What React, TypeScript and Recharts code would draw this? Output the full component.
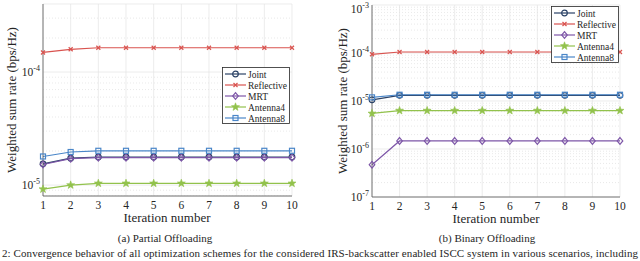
import React from 'react';
import { LineChart, Line, XAxis, YAxis, CartesianGrid, ReferenceLine } from 'recharts';

const iterations = [1, 2, 3, 4, 5, 6, 7, 8, 9, 10];

// (a) Partial offloading
const partialJoint = [1.54e-5, 1.73e-5, 1.77e-5, 1.77e-5, 1.77e-5, 1.77e-5, 1.77e-5, 1.77e-5, 1.77e-5, 1.77e-5];
const partialReflective = [1.49e-4, 1.59e-4, 1.64e-4, 1.64e-4, 1.64e-4, 1.64e-4, 1.64e-4, 1.64e-4, 1.64e-4, 1.64e-4];
const partialMRT = [1.52e-5, 1.71e-5, 1.75e-5, 1.75e-5, 1.75e-5, 1.75e-5, 1.75e-5, 1.75e-5, 1.75e-5, 1.75e-5];
const partialAntenna4 = [9.2e-6, 1.0e-5, 1.035e-5, 1.035e-5, 1.035e-5, 1.035e-5, 1.035e-5, 1.035e-5, 1.035e-5, 1.035e-5];
const partialAntenna8 = [1.79e-5, 1.96e-5, 2.01e-5, 2.01e-5, 2.01e-5, 2.01e-5, 2.01e-5, 2.01e-5, 2.01e-5, 2.01e-5];

// (b) Binary offloading
const binaryJoint = [1.06e-5, 1.31e-5, 1.31e-5, 1.31e-5, 1.31e-5, 1.31e-5, 1.31e-5, 1.31e-5, 1.31e-5, 1.31e-5];
const binaryReflective = [9.4e-5, 1.05e-4, 1.05e-4, 1.05e-4, 1.05e-4, 1.05e-4, 1.05e-4, 1.05e-4, 1.05e-4, 1.05e-4];
const binaryMRT = [4.7e-7, 1.47e-6, 1.47e-6, 1.47e-6, 1.47e-6, 1.47e-6, 1.47e-6, 1.47e-6, 1.47e-6, 1.47e-6];
const binaryAntenna4 = [5.5e-6, 6.3e-6, 6.3e-6, 6.3e-6, 6.3e-6, 6.3e-6, 6.3e-6, 6.3e-6, 6.3e-6, 6.3e-6];
const binaryAntenna8 = [1.19e-5, 1.35e-5, 1.35e-5, 1.35e-5, 1.35e-5, 1.35e-5, 1.35e-5, 1.35e-5, 1.35e-5, 1.35e-5];

const seriesNames = ['Joint', 'Reflective', 'MRT', 'Antenna4', 'Antenna8'];
const seriesColors = ['#2b4266', '#d9534f', '#7e57a8', '#92c24c', '#4a86c8'];
const seriesShapes = ['circle', 'cross', 'diamond', 'star', 'square'];

const partialTicks = [1e-5, 1e-4];
const partialMinor = [8e-6, 9e-6, 2e-5, 3e-5, 4e-5, 5e-5, 6e-5, 7e-5, 8e-5, 9e-5, 2e-4, 3e-4];
const binaryTicks = [1e-7, 1e-6, 1e-5, 1e-4, 1e-3];
const binaryMinor: number[] = [];
[1e-7, 1e-6, 1e-5, 1e-4].forEach((d) => {
  for (let k = 2; k <= 9; k++) binaryMinor.push(d * k);
});

const FONT = 'Liberation Serif, DejaVu Serif, Noto Serif, serif';
const TEXT = '#262626';

const buildRows = (cols: number[][]) =>
  iterations.map((it, i) => {
    const row: any = { it };
    seriesNames.forEach((n, s) => (row[n] = cols[s][i]));
    return row;
  });

const partialData = buildRows([partialJoint, partialReflective, partialMRT, partialAntenna4, partialAntenna8]);
const binaryData = buildRows([binaryJoint, binaryReflective, binaryMRT, binaryAntenna4, binaryAntenna8]);

function starPath(cx: number, cy: number, R: number, r: number) {
  let d = '';
  for (let i = 0; i < 10; i++) {
    const rad = i % 2 === 0 ? R : r;
    const a = -Math.PI / 2 + (i * Math.PI) / 5;
    d += (i === 0 ? 'M' : 'L') + (cx + rad * Math.cos(a)).toFixed(2) + ',' + (cy + rad * Math.sin(a)).toFixed(2);
  }
  return d + 'Z';
}

function MarkerShape({ shape, color, cx, cy }: { shape: string; color: string; cx: number; cy: number }) {
  const sw = 1.2;
  if (shape === 'circle') return <circle cx={cx} cy={cy} r={2.8} fill="none" stroke={color} strokeWidth={sw} />;
  if (shape === 'cross')
    return (
      <path d={`M${cx - 2},${cy - 2}L${cx + 2},${cy + 2}M${cx - 2},${cy + 2}L${cx + 2},${cy - 2}`} stroke={color} strokeWidth={sw} />
    );
  if (shape === 'diamond')
    return <path d={`M${cx},${cy - 3.4}L${cx + 2.8},${cy}L${cx},${cy + 3.4}L${cx - 2.8},${cy}Z`} fill="none" stroke={color} strokeWidth={sw} />;
  if (shape === 'star') return <path d={starPath(cx, cy, 4.2, 1.7)} fill={color} stroke={color} strokeWidth={0.6} />;
  return <rect x={cx - 2.5} y={cy - 2.5} width={5} height={5} fill="none" stroke={color} strokeWidth={sw} />;
}

const makeDot = (shape: string, color: string) => (props: any) => {
  const { cx, cy, index } = props;
  if (cx == null || cy == null) return <g key={index} />;
  return (
    <g key={index}>
      <MarkerShape shape={shape} color={color} cx={cx} cy={cy} />
    </g>
  );
};

const YTick = (props: any) => {
  const { x, y, payload } = props;
  const e = Math.round(Math.log10(payload.value));
  return (
    <text x={x} y={y + 4} textAnchor="end" style={{ fontFamily: FONT }} fontSize={11.5} fill={TEXT}>
      10
      <tspan dy={-5} fontSize={8}>
        {String(e)}
      </tspan>
    </text>
  );
};

const XTick = (props: any) => {
  const { x, y, payload } = props;
  return (
    <text x={x} y={y + 13} textAnchor="middle" style={{ fontFamily: FONT }} fontSize={11.5} fill={TEXT}>
      {payload.value}
    </text>
  );
};

function Panel({ data, domain, ticks, minor, yWidth, margin }: any) {
  return (
    <LineChart width={320} height={261} data={data} margin={margin}>
      <CartesianGrid stroke="#e4e4e4" strokeWidth={0.7} />
      {minor.map((v: number) => (
        <ReferenceLine key={v} y={v} stroke="#e0e0e0" strokeWidth={0.7} strokeDasharray="1 2" ifOverflow="hidden" />
      ))}
      <XAxis
        dataKey="it"
        type="number"
        domain={[1, 10]}
        ticks={iterations}
        tick={<XTick />}
        tickLine={false}
        tickSize={0}
        tickMargin={0}
        height={20}
        axisLine={{ stroke: '#555', strokeWidth: 0.8 }}
      />
      <XAxis xAxisId="top" orientation="top" type="number" domain={[1, 10]} height={0} tick={false} tickLine={false} axisLine={{ stroke: '#555', strokeWidth: 0.8 }} />
      <YAxis
        type="number"
        scale="log"
        domain={domain}
        allowDataOverflow
        ticks={ticks}
        tick={<YTick />}
        tickLine={false}
        tickSize={0}
        tickMargin={3}
        width={yWidth}
        axisLine={{ stroke: '#555', strokeWidth: 0.8 }}
      />
      <YAxis yAxisId="right" orientation="right" type="number" scale="log" domain={domain} allowDataOverflow width={0} tick={false} tickLine={false} axisLine={{ stroke: '#555', strokeWidth: 0.8 }} />
      {seriesNames.map((n, s) => (
        <Line
          key={n}
          dataKey={n}
          stroke={seriesColors[s]}
          strokeWidth={1.2}
          dot={makeDot(seriesShapes[s], seriesColors[s])}
          isAnimationActive={false}
          type="linear"
        />
      ))}
    </LineChart>
  );
}

function LegendBox({ left, top }: { left: number; top: number }) {
  const w = 68;
  const h = 57;
  return (
    <svg width={w} height={h} style={{ position: 'absolute', left, top }}>
      <rect x={0.5} y={0.5} width={w - 1} height={h - 1} fill="#fff" stroke="#262626" strokeWidth={0.8} />
      {seriesNames.map((n, s) => {
        const cy = 7 + s * 11;
        return (
          <g key={n}>
            <line x1={3} x2={24} y1={cy} y2={cy} stroke={seriesColors[s]} strokeWidth={1.2} />
            <MarkerShape shape={seriesShapes[s]} color={seriesColors[s]} cx={13.5} cy={cy} />
            <text x={26} y={cy + 3.5} style={{ fontFamily: FONT }} fontSize={9.5} fill={TEXT}>
              {n}
            </text>
          </g>
        );
      })}
    </svg>
  );
}

export default function App() {
  return (
    <div style={{ position: 'absolute', left: 0, top: 0, width: 640, height: 261, background: '#fff', overflow: 'hidden', fontFamily: FONT }}>
      <div style={{ position: 'absolute', left: 0, top: 0 }}>
        <Panel data={partialData} domain={[8e-6, 4e-4]} ticks={partialTicks} minor={partialMinor} yWidth={43} margin={{ top: 4, right: 28, bottom: 45, left: 0 }} />
      </div>
      <div style={{ position: 'absolute', left: 320, top: 0 }}>
        <Panel data={binaryData} domain={[1e-7, 1e-3]} ticks={binaryTicks} minor={binaryMinor} yWidth={52} margin={{ top: 5, right: 20, bottom: 44, left: 0 }} />
      </div>
      <LegendBox left={222} top={67} />
      <LegendBox left={551} top={6} />
      <svg width={640} height={261} style={{ position: 'absolute', left: 0, top: 0, pointerEvents: 'none', fontFamily: FONT }}>
        <text x={167} y={222} textAnchor="middle" style={{ fontFamily: FONT }} fontSize={13} fill={TEXT}>
          Iteration number
        </text>
        <text x={496} y={223} textAnchor="middle" style={{ fontFamily: FONT }} fontSize={13} fill={TEXT}>
          Iteration number
        </text>
        <text x={0} y={0} transform="translate(16,100) rotate(-90)" textAnchor="middle" style={{ fontFamily: FONT }} fontSize={13} fill={TEXT}>
          Weighted sum rate (bps/Hz)
        </text>
        <text x={0} y={0} transform="translate(347,101) rotate(-90)" textAnchor="middle" style={{ fontFamily: FONT }} fontSize={13} fill={TEXT}>
          Weighted sum rate (bps/Hz)
        </text>
        <text x={165} y={242} textAnchor="middle" style={{ fontFamily: FONT }} fontSize={11} fill={TEXT}>
          (a) Partial Offloading
        </text>
        <text x={487} y={242} textAnchor="middle" style={{ fontFamily: FONT }} fontSize={11} fill={TEXT}>
          (b) Binary Offloading
        </text>
        <text x={2} y={257} style={{ fontFamily: FONT }} fontSize={11} fill={TEXT} textLength={636} lengthAdjust="spacing">
          2: Convergence behavior of all optimization schemes for the considered IRS-backscatter enabled ISCC system in various scenarios, including
        </text>
      </svg>
    </div>
  );
}
